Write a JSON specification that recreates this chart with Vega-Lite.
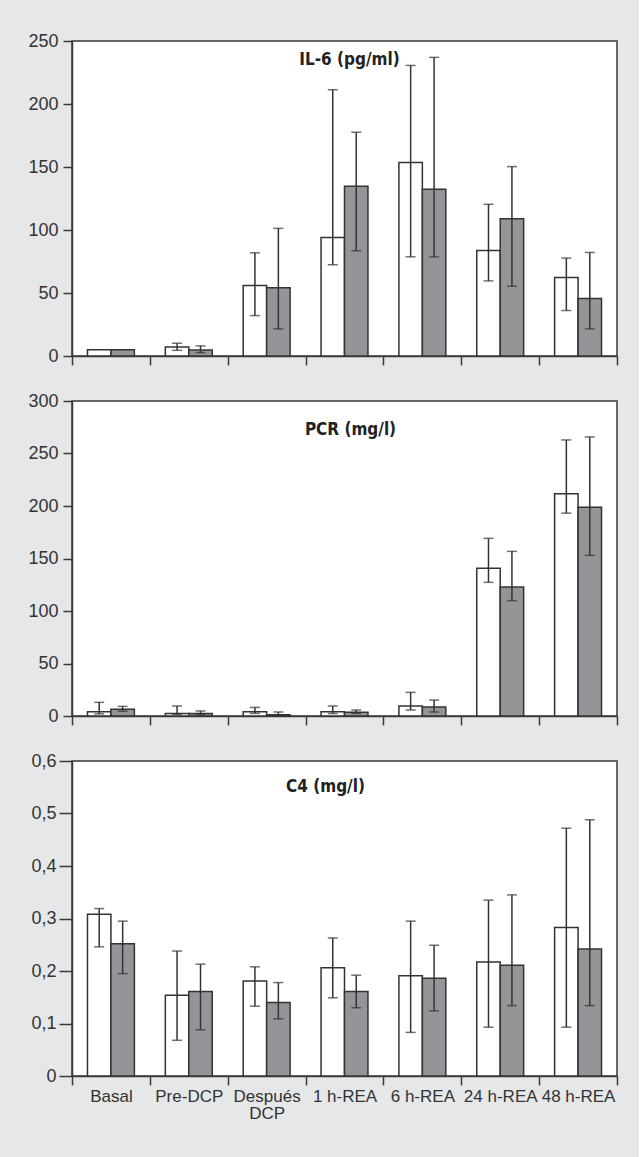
{
  "$schema": "https://vega.github.io/schema/vega-lite/v6.json",
  "background": "#e6e7e8",
  "padding": {"top": 31, "left": 27, "right": 20, "bottom": 42},
  "spacing": 24,
  "datasets": {
    "il6": [
      {"time": "Basal", "group": "g1", "value": 5, "lo": null, "hi": null},
      {"time": "Basal", "group": "g2", "value": 5, "lo": null, "hi": null},
      {"time": "Pre-DCP", "group": "g1", "value": 7.2, "lo": 4.5, "hi": 10.1},
      {"time": "Pre-DCP", "group": "g2", "value": 4.8, "lo": 2.7, "hi": 8.0},
      {"time": "Después DCP", "group": "g1", "value": 55.9, "lo": 32.1, "hi": 81.9},
      {"time": "Después DCP", "group": "g2", "value": 54.1, "lo": 21.5, "hi": 101.3},
      {"time": "1 h-REA", "group": "g1", "value": 94.1, "lo": 72.4, "hi": 211.3},
      {"time": "1 h-REA", "group": "g2", "value": 134.7, "lo": 83.5, "hi": 177.6},
      {"time": "6 h-REA", "group": "g1", "value": 153.5, "lo": 78.7, "hi": 230.6},
      {"time": "6 h-REA", "group": "g2", "value": 132.3, "lo": 78.7, "hi": 237.0},
      {"time": "24 h-REA", "group": "g1", "value": 83.8, "lo": 59.6, "hi": 120.4},
      {"time": "24 h-REA", "group": "g2", "value": 109.0, "lo": 55.4, "hi": 150.3},
      {"time": "48 h-REA", "group": "g1", "value": 62.3, "lo": 36.1, "hi": 77.7},
      {"time": "48 h-REA", "group": "g2", "value": 45.6, "lo": 21.5, "hi": 82.2}
    ],
    "pcr": [
      {"time": "Basal", "group": "g1", "value": 4.1, "lo": 2, "hi": 13},
      {"time": "Basal", "group": "g2", "value": 6.5, "lo": 4.5, "hi": 9.2},
      {"time": "Pre-DCP", "group": "g1", "value": 2.5, "lo": 1.5, "hi": 9.5},
      {"time": "Pre-DCP", "group": "g2", "value": 2.5, "lo": 1.5, "hi": 4.8},
      {"time": "Después DCP", "group": "g1", "value": 4.1, "lo": 2.5, "hi": 8.2},
      {"time": "Después DCP", "group": "g2", "value": 1.2, "lo": 0.3, "hi": 3.8},
      {"time": "1 h-REA", "group": "g1", "value": 4.1, "lo": 2.5, "hi": 9.5},
      {"time": "1 h-REA", "group": "g2", "value": 3.5, "lo": 2.5, "hi": 5.7},
      {"time": "6 h-REA", "group": "g1", "value": 9.5, "lo": 5.7, "hi": 22.5},
      {"time": "6 h-REA", "group": "g2", "value": 8.6, "lo": 3.8, "hi": 15.2},
      {"time": "24 h-REA", "group": "g1", "value": 140.6, "lo": 127.3, "hi": 169.2},
      {"time": "24 h-REA", "group": "g2", "value": 122.9, "lo": 109.9, "hi": 156.8},
      {"time": "48 h-REA", "group": "g1", "value": 211.6, "lo": 193.2, "hi": 262.9},
      {"time": "48 h-REA", "group": "g2", "value": 198.9, "lo": 153.0, "hi": 265.8}
    ],
    "c4": [
      {"time": "Basal", "group": "g1", "value": 0.308, "lo": 0.246, "hi": 0.319},
      {"time": "Basal", "group": "g2", "value": 0.252, "lo": 0.195, "hi": 0.295},
      {"time": "Pre-DCP", "group": "g1", "value": 0.154, "lo": 0.068, "hi": 0.238},
      {"time": "Pre-DCP", "group": "g2", "value": 0.161, "lo": 0.088, "hi": 0.213},
      {"time": "Después DCP", "group": "g1", "value": 0.181, "lo": 0.133, "hi": 0.208},
      {"time": "Después DCP", "group": "g2", "value": 0.140, "lo": 0.109, "hi": 0.178},
      {"time": "1 h-REA", "group": "g1", "value": 0.206, "lo": 0.149, "hi": 0.263},
      {"time": "1 h-REA", "group": "g2", "value": 0.161, "lo": 0.130, "hi": 0.192},
      {"time": "6 h-REA", "group": "g1", "value": 0.191, "lo": 0.083, "hi": 0.295},
      {"time": "6 h-REA", "group": "g2", "value": 0.186, "lo": 0.124, "hi": 0.249},
      {"time": "24 h-REA", "group": "g1", "value": 0.217, "lo": 0.093, "hi": 0.335},
      {"time": "24 h-REA", "group": "g2", "value": 0.211, "lo": 0.134, "hi": 0.345},
      {"time": "48 h-REA", "group": "g1", "value": 0.283, "lo": 0.093, "hi": 0.472},
      {"time": "48 h-REA", "group": "g2", "value": 0.242, "lo": 0.134, "hi": 0.488}
    ]
  },
  "vconcat": [
    {
      "width": 545, "height": 315,
      "data": {"name": "il6"},
      "title": {"text": "IL-6 (pg/ml)", "offset": -37, "dx": 5},
      "encoding": {
        "x": {"field": "time", "type": "nominal", "title": null,
              "scale": {"domain": ["Basal", "Pre-DCP", "Después DCP", "1 h-REA", "6 h-REA", "24 h-REA", "48 h-REA"], "paddingInner": 0, "paddingOuter": 0},
              "axis": {"labels": false, "tickBand": "extent", "tickSize": 9}},
        "xOffset": {"field": "group", "type": "nominal", "scale": {"domain": ["g1", "g2"], "paddingInner": 0, "paddingOuter": 0.66}}
      },
      "layer": [
        {"mark": {"type": "bar", "stroke": "#333", "strokeWidth": 1.5},
         "encoding": {
           "y": {"field": "value", "type": "quantitative", "title": null,
                 "scale": {"domain": [0, 250], "nice": false},
                 "axis": {"values": [0, 50, 100, 150, 200, 250], "tickSize": 9, "labelPadding": 5}},
           "fill": {"field": "group", "type": "nominal", "legend": null,
                    "scale": {"domain": ["g1", "g2"], "range": ["#ffffff", "#939598"]}}
         }},
        {"mark": {"type": "rule", "color": "#333", "strokeWidth": 1.5},
         "encoding": {"y": {"field": "lo", "type": "quantitative"}, "y2": {"field": "hi"}}},
        {"mark": {"type": "tick", "color": "#333", "thickness": 1.5, "size": 10, "orient": "horizontal"},
         "encoding": {"y": {"field": "lo", "type": "quantitative"}}},
        {"mark": {"type": "tick", "color": "#333", "thickness": 1.5, "size": 10, "orient": "horizontal"},
         "encoding": {"y": {"field": "hi", "type": "quantitative"}}}
      ]
    },
    {
      "width": 545, "height": 315,
      "data": {"name": "pcr"},
      "title": {"text": "PCR (mg/l)", "offset": -47, "dx": 6},
      "encoding": {
        "x": {"field": "time", "type": "nominal", "title": null,
              "scale": {"domain": ["Basal", "Pre-DCP", "Después DCP", "1 h-REA", "6 h-REA", "24 h-REA", "48 h-REA"], "paddingInner": 0, "paddingOuter": 0},
              "axis": {"labels": false, "tickBand": "extent", "tickSize": 9}},
        "xOffset": {"field": "group", "type": "nominal", "scale": {"domain": ["g1", "g2"], "paddingInner": 0, "paddingOuter": 0.66}}
      },
      "layer": [
        {"mark": {"type": "bar", "stroke": "#333", "strokeWidth": 1.5},
         "encoding": {
           "y": {"field": "value", "type": "quantitative", "title": null,
                 "scale": {"domain": [0, 300], "nice": false},
                 "axis": {"values": [0, 50, 100, 150, 200, 250, 300], "tickSize": 9, "labelPadding": 5}},
           "fill": {"field": "group", "type": "nominal", "legend": null,
                    "scale": {"domain": ["g1", "g2"], "range": ["#ffffff", "#939598"]}}
         }},
        {"mark": {"type": "rule", "color": "#333", "strokeWidth": 1.5},
         "encoding": {"y": {"field": "lo", "type": "quantitative"}, "y2": {"field": "hi"}}},
        {"mark": {"type": "tick", "color": "#333", "thickness": 1.5, "size": 10, "orient": "horizontal"},
         "encoding": {"y": {"field": "lo", "type": "quantitative"}}},
        {"mark": {"type": "tick", "color": "#333", "thickness": 1.5, "size": 10, "orient": "horizontal"},
         "encoding": {"y": {"field": "hi", "type": "quantitative"}}}
      ]
    },
    {
      "width": 545, "height": 315,
      "data": {"name": "c4"},
      "title": {"text": "C4 (mg/l)", "offset": -44, "dx": -19},
      "encoding": {
        "x": {"field": "time", "type": "nominal", "title": null,
              "scale": {"domain": ["Basal", "Pre-DCP", "Después DCP", "1 h-REA", "6 h-REA", "24 h-REA", "48 h-REA"], "paddingInner": 0, "paddingOuter": 0},
              "axis": {"labelAngle": 0, "tickBand": "extent", "tickSize": 9, "labelPadding": 3, "labelLineHeight": 17, "labelFontSize": 17,
                       "labelExpr": "datum.label == 'Después DCP' ? ['Después', 'DCP'] : datum.label"}},
        "xOffset": {"field": "group", "type": "nominal", "scale": {"domain": ["g1", "g2"], "paddingInner": 0, "paddingOuter": 0.66}}
      },
      "layer": [
        {"mark": {"type": "bar", "stroke": "#333", "strokeWidth": 1.5},
         "encoding": {
           "y": {"field": "value", "type": "quantitative", "title": null,
                 "scale": {"domain": [0, 0.6], "nice": false},
                 "axis": {"values": [0, 0.1, 0.2, 0.3, 0.4, 0.5, 0.6], "tickSize": 13, "labelPadding": 3,
                          "labelExpr": "datum.value == 0 ? '0' : replace(format(datum.value, '.1f'), '.', ',')"}},
           "fill": {"field": "group", "type": "nominal", "legend": null,
                    "scale": {"domain": ["g1", "g2"], "range": ["#ffffff", "#939598"]}}
         }},
        {"mark": {"type": "rule", "color": "#333", "strokeWidth": 1.5},
         "encoding": {"y": {"field": "lo", "type": "quantitative"}, "y2": {"field": "hi"}}},
        {"mark": {"type": "tick", "color": "#333", "thickness": 1.5, "size": 10, "orient": "horizontal"},
         "encoding": {"y": {"field": "lo", "type": "quantitative"}}},
        {"mark": {"type": "tick", "color": "#333", "thickness": 1.5, "size": 10, "orient": "horizontal"},
         "encoding": {"y": {"field": "hi", "type": "quantitative"}}}
      ]
    }
  ],
  "config": {
    "view": {"fill": "#ffffff", "stroke": "#3a3a3a", "strokeWidth": 1.5},
    "axis": {"domainColor": "#3a3a3a", "tickColor": "#3a3a3a", "domainWidth": 1.5, "tickWidth": 1.5,
             "labelColor": "#333333", "labelFont": "Liberation Sans", "labelFontSize": 18, "labelPadding": 2, "grid": false},
    "title": {"font": "Liberation Sans Narrow, DejaVu Sans Condensed, Liberation Sans", "fontSize": 17, "fontWeight": "bold", "color": "#222222", "anchor": "middle", "frame": "group"}
  }
}
